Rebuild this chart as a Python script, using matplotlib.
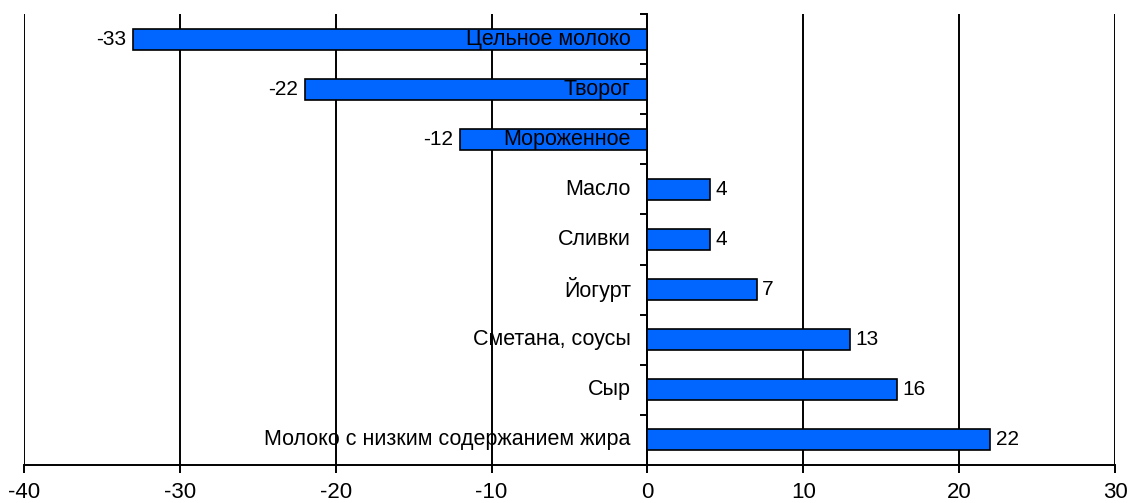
import numpy as np
import matplotlib.pyplot as plt

categories = ["Цельное молоко", "Творог", "Мороженное", "Масло", "Сливки",
              "Йогурт", "Сметана, соусы", "Сыр",
              "Молоко с низким содержанием жира"]
values = [-33, -22, -12, 4, 4, 7, 13, 16, 22]
xticks = [-40, -30, -20, -10, 0, 10, 20, 30]

plt.rcParams['font.family'] = ['Liberation Sans', 'DejaVu Sans']

fig = plt.figure(figsize=(11.28, 5.03), dpi=100)
ax = fig.add_axes([24 / 1128, 1 - 465 / 503, (1115 - 24) / 1128, (465 - 14) / 503])

ypos = np.arange(len(categories))
ax.barh(ypos, values, height=0.42, color="#0066ff", edgecolor="black",
        linewidth=1.2, zorder=3)

ax.set_xlim(-40, 30)
ax.set_ylim(len(categories) - 0.5, -0.5)
ax.set_xticks(xticks)
ax.set_xticklabels([str(t) for t in xticks], fontsize=16)
ax.grid(axis="x", color="black", linewidth=1.4, zorder=1)
ax.set_axisbelow(True)

for s in ["top", "right"]:
    ax.spines[s].set_visible(False)
ax.spines["left"].set_position(("data", 0))
ax.spines["left"].set_linewidth(1.4)
ax.spines["bottom"].set_linewidth(1.4)
ax.set_yticks(np.arange(len(categories) + 1) - 0.5)
ax.set_yticklabels([])
ax.tick_params(axis="y", direction="out", length=5, width=1.4)
ax.tick_params(axis="x", direction="out", length=6, width=1.4, pad=6.5)

for y, (cat, v) in enumerate(zip(categories, values)):
    ax.annotate(cat, (0, y), xytext=(-12, 0), textcoords="offset points",
                ha="right", va="center", fontsize=15.5, zorder=4)
    if v < 0:
        ax.annotate(str(v), (v, y), xytext=(-5, 0), textcoords="offset points",
                    ha="right", va="center", fontsize=15)
    else:
        ax.annotate(str(v), (v, y), xytext=(4, 0), textcoords="offset points",
                    ha="left", va="center", fontsize=15)

fig.savefig("out.png", dpi=100)
